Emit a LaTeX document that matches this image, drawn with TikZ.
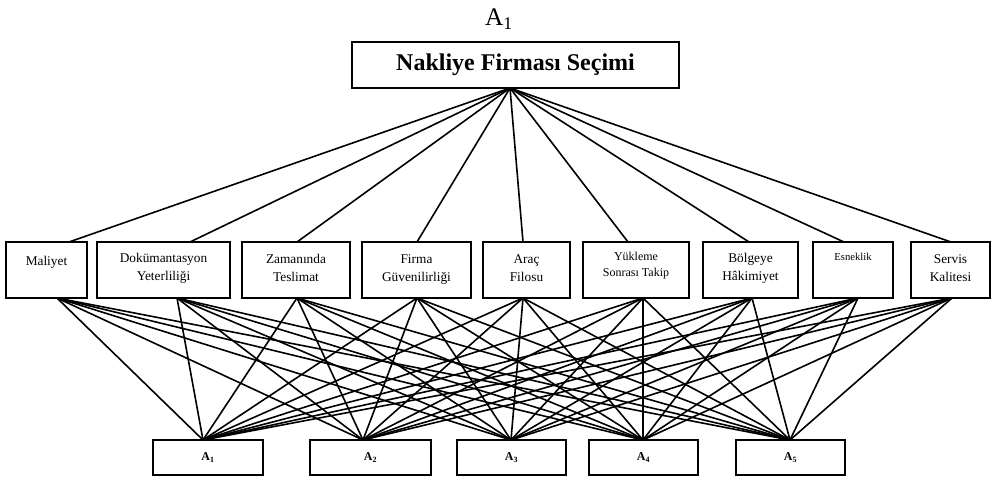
\documentclass[tikz,border=0pt]{standalone}
\usepackage{fontspec}
\setmainfont{Liberation Serif}
\usetikzlibrary{positioning}
\usetikzlibrary{calc}

\begin{document}
\begin{tikzpicture}[x=0.75pt, y=-0.75pt,
                    every node/.style={inner sep=0pt},
                    goalbox/.style={draw, line width=1.5pt, minimum width=327*0.75pt, minimum height=46*0.75pt,
                                    font=\fontsize{18}{20}\selectfont\bfseries},
                    critbox/.style={draw, line width=1.5pt, minimum width=#1*0.75pt, minimum height=56*0.75pt},
                    crittext/.style={anchor=north, align=center, font=\fontsize{10}{13.5}\selectfont},
                    altbox/.style={draw, line width=1.5pt, minimum width=#1*0.75pt, minimum height=35*0.75pt,
                                   font=\fontsize{9}{10}\selectfont\bfseries},
                    link/.style={line width=1.2pt}]

    \useasboundingbox (0,0) rectangle (993,479);

    % goal
    \node (title) at (499,19) {\fontsize{19}{21}\selectfont A\textsubscript{1}};
    \node[goalbox] (goal) at (515.5,65) {Nakliye Firması Seçimi};
    \coordinate (apex) at (510,88);

    % criteria
    \node[critbox=81]  (mal)  at (46.5,270)  {};
    \node[critbox=133] (dok)  at (163.5,270) {};
    \node[critbox=108] (zam)  at (296,270)   {};
    \node[critbox=109] (fir)  at (416.5,270) {};
    \node[critbox=87]  (arac) at (526.5,270) {};
    \node[critbox=106] (yuk)  at (636,270)   {};
    \node[critbox=95]  (bol)  at (750.5,270) {};
    \node[critbox=80]  (esn)  at (853,270)   {};
    \node[critbox=79]  (ser)  at (950.5,270) {};

    \node[crittext] (mal-t)  at ($(mal.north)+(0,15)$)  {Maliyet};
    \node[crittext] (dok-t)  at ($(dok.north)+(0,12)$)  {Dokümantasyon\\Yeterliliği};
    \node[crittext] (zam-t)  at ($(zam.north)+(0,13)$)  {Zamanında\\Teslimat};
    \node[crittext] (fir-t)  at ($(fir.north)+(0,13)$)  {Firma\\Güvenilirliği};
    \node[crittext] (arac-t) at ($(arac.north)+(0,13)$) {Araç\\Filosu};
    \node[crittext, font=\fontsize{9}{12}\selectfont] (yuk-t) at ($(yuk.north)+(0,11)$) {Yükleme\\Sonrası Takip};
    \node[crittext] (bol-t)  at ($(bol.north)+(0,12)$)  {Bölgeye\\Hâkimiyet};
    \node[crittext, font=\fontsize{8}{10}\selectfont] (esn-t) at ($(esn.north)+(0,12)$) {Esneklik};
    \node[crittext] (ser-t)  at ($(ser.north)+(0,13)$)  {Servis\\Kalitesi};

    % alternatives
    \node[altbox=110] (a1) at (208,457.5)   {A\textsubscript{1}};
    \node[altbox=121] (a2) at (370.5,457.5) {A\textsubscript{2}};
    \node[altbox=109] (a3) at (511.5,457.5) {A\textsubscript{3}};
    \node[altbox=109] (a4) at (643.5,457.5) {A\textsubscript{4}};
    \node[altbox=109] (a5) at (790.5,457.5) {A\textsubscript{5}};

    % where the lines meet the boxes
    \foreach \c/\xin/\xout in {mal/69/57, dok/190/177, zam/297/297, fir/417/417, arac/523/523,
                               yuk/628/643, bol/749/752, esn/844/858, ser/951/952}{
        \coordinate (\c-in)  at (\xin,242);
        \coordinate (\c-out) at (\xout,298);
    }
    \foreach \a/\x in {a1/203, a2/363, a3/511, a4/643, a5/790}
        \coordinate (\a-in) at (\x,440);

    % connectors
    \foreach \c in {mal, dok, zam, fir, arac, yuk, bol, esn, ser}{
        \draw[link] (apex) -- (\c-in);
        \foreach \a in {a1, a2, a3, a4, a5}
            \draw[link] (\c-out) -- (\a-in);
    }

\end{tikzpicture}
\end{document}
